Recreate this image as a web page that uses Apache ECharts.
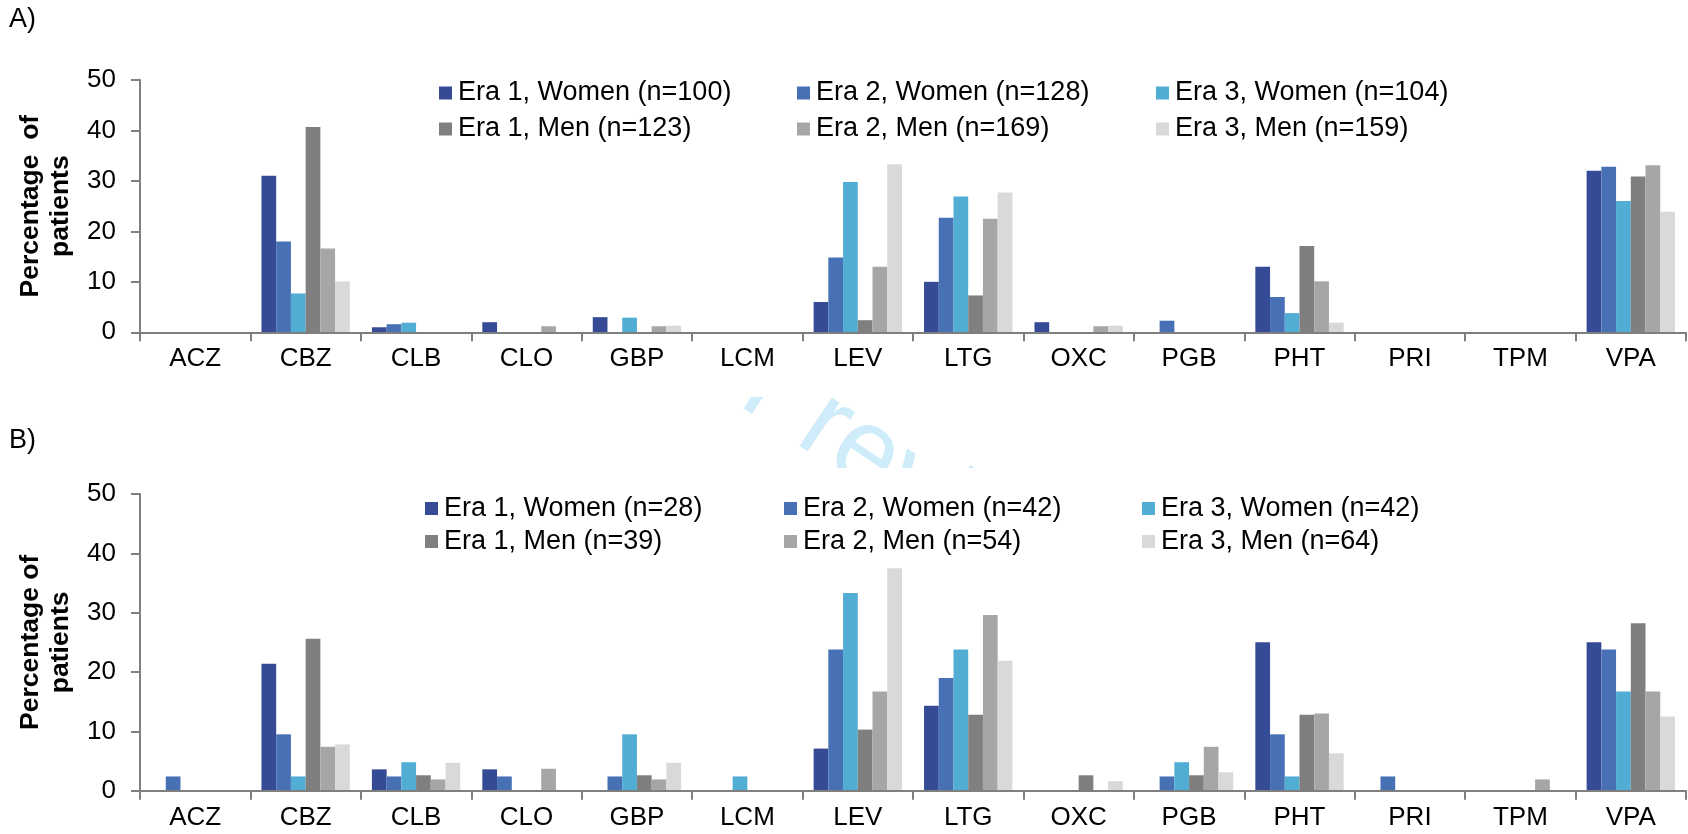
<!DOCTYPE html>
<html>
<head>
<meta charset="utf-8">
<script src="https://cdn.jsdelivr.net/npm/echarts@6/dist/echarts.min.js"></script>
<style>
html,body{margin:0;padding:0;background:#fff;}
#chart{width:1688px;height:834px;}
</style>
</head>
<body>
<div id="chart"></div>
<script>
// ---- data ----
var categories = ['ACZ','CBZ','CLB','CLO','GBP','LCM','LEV','LTG','OXC','PGB','PHT','PRI','TPM','VPA'];
var yTicks = [0, 10, 20, 30, 40, 50];

var namesA = ['Era 1, Women (n=100)','Era 2, Women (n=128)','Era 3, Women (n=104)',
              'Era 1, Men (n=123)','Era 2, Men (n=169)','Era 3, Men (n=159)'];
var namesB = ['Era 1, Women (n=28)','Era 2, Women (n=42)','Era 3, Women (n=42)',
              'Era 1, Men (n=39)','Era 2, Men (n=54)','Era 3, Men (n=64)'];

// Panel A
var aEra1Women = [0, 31.0, 1.0, 2.0, 3.0, 0, 6.0, 10.0, 2.0, 0, 13.0, 0, 0, 32.0];
var aEra2Women = [0, 18.0, 1.6, 0, 0, 0, 14.8, 22.7, 0, 2.3, 7.0, 0, 0, 32.8];
var aEra3Women = [0, 7.7, 1.9, 0, 2.9, 0, 29.8, 26.9, 0, 0, 3.8, 0, 0, 26.0];
var aEra1Men   = [0, 40.7, 0, 0, 0, 0, 2.4, 7.3, 0, 0, 17.1, 0, 0, 30.9];
var aEra2Men   = [0, 16.6, 0, 1.2, 1.2, 0, 13.0, 22.5, 1.2, 0, 10.1, 0, 0, 33.1];
var aEra3Men   = [0, 10.1, 0, 0, 1.3, 0, 33.3, 27.7, 1.3, 0, 1.9, 0, 0, 23.9];

// Panel B
var bEra1Women = [0, 21.4, 3.6, 3.6, 0, 0, 7.1, 14.3, 0, 0, 25.0, 0, 0, 25.0];
var bEra2Women = [2.4, 9.5, 2.4, 2.4, 2.4, 0, 23.8, 19.0, 0, 2.4, 9.5, 2.4, 0, 23.8];
var bEra3Women = [0, 2.4, 4.8, 0, 9.5, 2.4, 33.3, 23.8, 0, 4.8, 2.4, 0, 0, 16.7];
var bEra1Men   = [0, 25.6, 2.6, 0, 2.6, 0, 10.3, 12.8, 2.6, 2.6, 12.8, 0, 0, 28.2];
var bEra2Men   = [0, 7.4, 1.9, 3.7, 1.9, 0, 16.7, 29.6, 0, 7.4, 13.0, 0, 1.9, 16.7];
var bEra3Men   = [0, 7.8, 4.7, 0, 4.7, 0, 37.5, 21.9, 1.6, 3.1, 6.3, 0, 0, 12.5];

var colors = ['#364B96', '#4770B5', '#51ADD3', '#7F7F7F', '#A6A6A6', '#D9D9D9'];

// ---- chart ----
var FONT = '"Liberation Sans", Arial, sans-serif';
var chart = echarts.init(document.getElementById('chart'), null, {renderer: 'canvas'});

var dataA = [aEra1Women, aEra2Women, aEra3Women, aEra1Men, aEra2Men, aEra3Men];
var dataB = [bEra1Women, bEra2Women, bEra3Women, bEra1Men, bEra2Men, bEra3Men];

var series = [];
function addSeries(names, data, idx) {
  for (var i = 0; i < names.length; i++) {
    series.push({
      type: 'bar', name: names[i], data: data[i],
      xAxisIndex: idx, yAxisIndex: idx,
      barGap: '0%', barCategoryGap: '20%',
      itemStyle: {color: colors[i]},
      z: 2
    });
  }
}
addSeries(namesA, dataA, 0);
addSeries(namesB, dataB, 1);

var legends = [];
function addLegends(names, lefts, rowCenters) {
  for (var i = 0; i < names.length; i++) {
    var col = i % 3, row = Math.floor(i / 3);
    legends.push({
      data: [names[i]], left: lefts[col], top: rowCenters[row] - 13,
      orient: 'horizontal', padding: 0, itemGap: 0,
      icon: 'rect', itemWidth: 13, itemHeight: 13, selectedMode: false,
      textStyle: {fontFamily: FONT, fontSize: 27, color: '#000', padding: [0, 0, 0, 1]},
      z: 5
    });
  }
}
addLegends(namesA, [439, 797, 1156], [92.5, 128.5]);
addLegends(namesB, [425, 784, 1142], [508, 541]);

function xAxisCfg(gi) {
  return {
    type: 'category', gridIndex: gi, data: categories, boundaryGap: true, z: 3,
    axisLine: {show: true, lineStyle: {color: '#7F7F7F', width: 2}},
    axisTick: {show: true, length: 9, inside: false, alignWithLabel: false, lineStyle: {color: '#7F7F7F', width: 2}},
    axisLabel: {fontFamily: FONT, fontSize: 26, color: '#000', margin: 14, interval: 0},
    splitLine: {show: false}
  };
}
function yAxisCfg(gi, name) {
  return {
    type: 'value', gridIndex: gi, min: yTicks[0], max: yTicks[yTicks.length - 1], interval: 10, z: 3,
    name: name, nameLocation: 'middle', nameGap: 53,
    nameTextStyle: {fontFamily: FONT, fontSize: 26.5, fontWeight: 'bold', color: '#000', lineHeight: 30, align: 'center'},
    axisLine: {show: true, lineStyle: {color: '#7F7F7F', width: 2}},
    axisTick: {show: true, length: 9, inside: false, lineStyle: {color: '#7F7F7F', width: 2}},
    axisLabel: {fontFamily: FONT, fontSize: 26, color: '#000', margin: 24},
    splitLine: {show: false}
  };
}

var option = {
  backgroundColor: '#fff',
  animation: false,
  title: [
    {text: 'A)', left: 9, top: 6, textStyle: {fontFamily: FONT, fontSize: 27, fontWeight: 'normal', color: '#000'}, padding: 0},
    {text: 'B)', left: 9, top: 427, textStyle: {fontFamily: FONT, fontSize: 27, fontWeight: 'normal', color: '#000'}, padding: 0}
  ],
  legend: legends,
  grid: [
    {left: 140, top: 80, width: 1546, height: 252.3},
    {left: 140, top: 494, width: 1546, height: 296.7}
  ],
  xAxis: [xAxisCfg(0), xAxisCfg(1)],
  yAxis: [yAxisCfg(0, 'Percentage  of\npatients'), yAxisCfg(1, 'Percentage of\npatients')],
  series: series,
  graphic: [
    {type: 'text', x: 440, y: 167, rotation: -0.593, z: 0, silent: true,
     style: {text: 'For peer review', font: '110px "Liberation Sans", Arial, sans-serif', fill: '#CFECFA', textAlign: 'left', textVerticalAlign: 'middle'}},
    {type: 'rect', shape: {x: 0, y: 0, width: 1688, height: 397}, style: {fill: '#fff'}, z: 1, silent: true},
    {type: 'rect', shape: {x: 0, y: 468, width: 1688, height: 366}, style: {fill: '#fff'}, z: 1, silent: true}
  ]
};
chart.setOption(option);
</script>
</body>
</html>
